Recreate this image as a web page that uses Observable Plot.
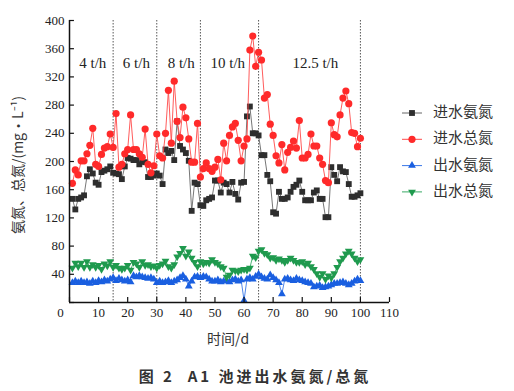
<!DOCTYPE html>
<html><head><meta charset="utf-8">
<script src="https://cdn.jsdelivr.net/npm/d3@7"></script>
<script src="https://cdn.jsdelivr.net/npm/@observablehq/plot@0.6"></script>
<style>body{margin:0;background:#fff} #chart{width:514px;height:391px}</style>
</head><body><div id="chart"></div><script>
const days = d3.range(1, 101);
const inNH = [147,132,147,149,152,179,189,183,170,167,185,187,189,193,184,183,182,175,193,205,
204,202,202,196,200,199,178,178,180,183,180,168,217,212,215,202,257,222,217,212,
201,130,170,168,138,137,145,147,149,173,173,156,170,168,156,171,154,146,170,171,
264,278,240,240,237,209,209,181,172,128,126,157,147,147,149,157,164,167,173,157,
145,145,145,156,159,147,147,121,121,192,181,172,192,186,185,168,150,150,152,155];
const inTN = [169,188,181,201,201,211,223,247,196,193,210,219,221,239,220,268,192,196,211,217,
266,217,217,211,206,246,196,184,194,239,208,205,240,301,226,314,257,234,277,262,
232,199,199,254,178,190,198,190,186,192,203,174,226,201,237,249,254,230,201,222,
232,358,378,335,355,344,290,295,253,237,208,198,224,188,213,220,229,219,258,205,
205,210,239,222,222,205,196,173,170,255,238,235,266,290,300,282,241,240,221,233];
const outNH = [28,30,28,30,28,29,27,30,28,31,29,32,30,33,35,31,34,32,30,32,
29,38,36,38,36,35,34,35,33,28,30,28,29,31,28,30,32,35,38,33,
23,30,36,37,35,37,36,33,30,30,32,29,30,31,29,32,33,30,32,3,
33,35,33,37,40,36,34,33,39,35,32,28,12,33,34,32,31,34,32,31,
29,28,27,22,23,24,21,22,23,25,27,27,28,29,27,25,27,30,33,31];
const outTN = [49,56,51,56,50,58,50,54,50,53,47,55,52,58,50,53,49,47,49,53,
46,57,55,50,58,53,54,51,52,49,53,55,59,51,49,54,65,70,77,66,
72,63,57,51,58,55,57,56,61,57,55,51,49,36,39,46,45,44,46,47,
46,49,66,64,73,75,70,68,63,64,60,62,60,57,60,63,60,57,57,58,
54,56,51,47,41,36,41,33,38,35,41,50,58,63,69,73,69,63,58,61];
const seriesNames = ["进水氨氮", "进水总氮", "出水氨氮", "出水总氮"];
const stageDividers = [15, 30, 45, 65, 100];
const stageLabels = ["4 t/h", "6 t/h", "8 t/h", "10 t/h", "12.5 t/h"];
const stageLabelX = [8, 23, 38.4, 54.4, 84.5];
const xTicks = [0,10,20,30,40,50,60,70,80,90,100,110];
const yTicks = [0,40,80,120,160,200,240,280,320,360,400];

const seriesValues = [inNH, inTN, outNH, outTN];
const lineColors = ["#666666", "#ff4a4a", "#3a78e8", "#3aaa66"];
const dotColors = ["#2e2e2e", "#ff2a2a", "#1a5fe0", "#1f9a4e"];
const symbols = ["square", "circle", "triangle", "triangle"];
const rotations = [0, 0, 0, 180];
const radii = [3.3, 3.6, 2.9, 2.9];

const marks = [
  Plot.ruleX(stageDividers, {stroke: "#444", strokeWidth: 0.9, strokeDasharray: "1.5,1.5"}),
  Plot.text(stageLabels, {x: (d, i) => stageLabelX[i], y: 340, text: d => d, fontSize: 15, fill: "#222"})
];
seriesValues.forEach((vals, k) => {
  const rows = days.map((d, i) => ({day: d, value: vals[i]}));
  marks.push(Plot.line(rows, {x: "day", y: "value", stroke: lineColors[k], strokeWidth: 0.9}));
  marks.push(Plot.dot(rows, {x: "day", y: "value", fill: dotColors[k], stroke: "none", symbol: symbols[k], r: radii[k], rotate: rotations[k]}));
});
marks.push(
  Plot.ruleY([0], {stroke: "#111", strokeWidth: 1.5}),
  Plot.ruleX([0], {stroke: "#111", strokeWidth: 1.5}),
  Plot.ruleX(xTicks, {x: d => d, y1: 0, y2: 7, stroke: "#111", strokeWidth: 1.2}),
  Plot.ruleY(yTicks, {y: d => d, x1: 0, x2: 1.7, stroke: "#111", strokeWidth: 1.2}),
  Plot.axisX(xTicks.filter(t => t > 0), {tickSize: 0, tickPadding: 5, fontSize: 13, label: null}),
  Plot.axisX([0], {tickSize: 0, tickPadding: 5, dx: -9, fontSize: 13, label: null}),
  Plot.axisY(yTicks.filter(t => t > 0), {tickSize: 0, tickPadding: 5, fontSize: 13, label: null})
);

const plot = Plot.plot({
  width: 514, height: 391,
  marginLeft: 69, marginRight: 125, marginTop: 20, marginBottom: 89,
  style: {fontFamily: "'Liberation Serif', 'Times New Roman', serif", fontSize: "13px", color: "#222", background: "#fff"},
  x: {domain: [0, 110], label: null},
  y: {domain: [0, 400], label: null},
  marks
});
document.getElementById("chart").appendChild(plot);

const svg = d3.select(plot);
const cjk = "'Noto Sans CJK SC', sans-serif";
svg.append("text").attr("transform", "translate(19,165) rotate(-90)")
  .attr("text-anchor", "middle").attr("dominant-baseline", "middle")
  .style("font-family", cjk).style("font-size", "14px").style("fill", "#333")
  .text("氨氮、总氮/(mg·L⁻¹)");
svg.append("text").attr("x", 228).attr("y", 340)
  .attr("text-anchor", "middle").attr("dominant-baseline", "middle")
  .style("font-family", cjk).style("font-size", "14px").style("fill", "#333")
  .text("时间/d");
const d3sym = {square: d3.symbolSquare, circle: d3.symbolCircle, triangle: d3.symbolTriangle};
seriesNames.forEach((name, k) => {
  const y = 113 + k * 26.3;
  const g = svg.append("g");
  g.append("line").attr("x1", 402).attr("x2", 422).attr("y1", y).attr("y2", y)
    .attr("stroke", lineColors[k]).attr("stroke-width", 1);
  g.append("path").attr("d", d3.symbol(d3sym[symbols[k]], Math.PI * radii[k] * radii[k])())
    .attr("transform", `translate(412,${y}) rotate(${rotations[k]})`).attr("fill", dotColors[k]);
  g.append("text").attr("x", 433).attr("y", y).attr("text-anchor", "start").attr("dominant-baseline", "middle")
    .style("font-family", cjk).style("font-size", "15px").style("fill", "#333").text(name);
});
svg.append("text").attr("x", 255).attr("y", 378)
  .attr("text-anchor", "middle").attr("dominant-baseline", "middle")
  .style("font-family", cjk).style("font-size", "15px").style("font-weight", "bold")
  .style("letter-spacing", "3px").style("fill", "#333")
  .text("图 2  A1 池进出水氨氮/总氮");
</script></body></html>
